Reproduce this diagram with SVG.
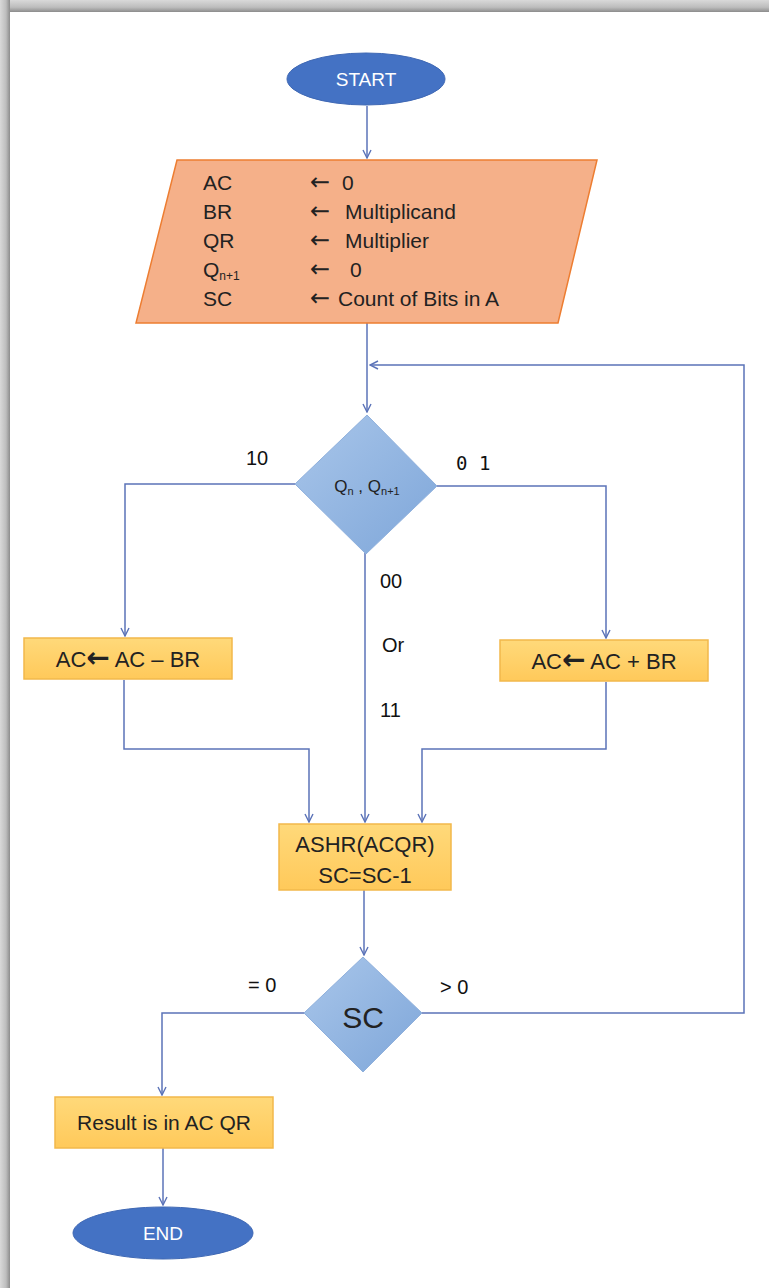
<svg xmlns="http://www.w3.org/2000/svg" width="769" height="1288" viewBox="0 0 769 1288">
<defs>
<linearGradient id="shTop" x1="0" y1="0" x2="0" y2="1">
<stop offset="0" stop-color="#d9d9d9"/><stop offset="0.6" stop-color="#bdbdbd"/><stop offset="1" stop-color="#8c8c8c"/>
</linearGradient>
<linearGradient id="shLeft" x1="0" y1="0" x2="1" y2="0">
<stop offset="0" stop-color="#d9d9d9"/><stop offset="0.6" stop-color="#bdbdbd"/><stop offset="1" stop-color="#8c8c8c"/>
</linearGradient>
<linearGradient id="diaG" x1="0" y1="0" x2="1" y2="1">
<stop offset="0" stop-color="#a9c6ea"/><stop offset="1" stop-color="#7ea6d9"/>
</linearGradient>
<linearGradient id="boxG" x1="0" y1="0" x2="0" y2="1">
<stop offset="0" stop-color="#ffd97a"/><stop offset="1" stop-color="#ffc95a"/>
</linearGradient>
<marker id="arr" viewBox="0 0 10 10" refX="9" refY="5" markerWidth="10" markerHeight="10" markerUnits="userSpaceOnUse" orient="auto">
<path d="M1,1 L9,5 L1,9" fill="none" stroke="#5b73b8" stroke-width="1.4"/>
</marker>
<style>
.c{fill:none;stroke:#5b73b8;stroke-width:1.5}
.t{font-family:"Liberation Sans",Arial,sans-serif;fill:#222}
.ar{font-family:"DejaVu Sans",sans-serif}
.term{fill:#4472c4;stroke:#3f68b4;stroke-width:1}
.termt{font-family:"Liberation Sans",Arial,sans-serif;fill:#ffffff;font-size:19px;text-anchor:middle}
.box{fill:url(#boxG);stroke:#f2b84b;stroke-width:1.5}
.dia{fill:url(#diaG);stroke:#8fb0dc;stroke-width:1}
.lbl{font-family:"Liberation Sans",Arial,sans-serif;fill:#111;font-size:20px}
</style>
</defs>
<rect x="0" y="0" width="769" height="1288" fill="#ffffff"/>
<rect x="0" y="0" width="769" height="12" fill="url(#shTop)"/>
<rect x="0" y="0" width="10" height="1288" fill="url(#shLeft)"/>

<g id="connectors">
<path class="c" d="M367,106 V158" marker-end="url(#arr)"/>
<path class="c" d="M367,323 V412" marker-end="url(#arr)"/>
<path class="c" d="M422,1013 H744 V365 H370" marker-end="url(#arr)"/>
<path class="c" d="M296,484 H125 V636" marker-end="url(#arr)"/>
<path class="c" d="M437,486 H606 V638" marker-end="url(#arr)"/>
<path class="c" d="M365,553 V822" marker-end="url(#arr)"/>
<path class="c" d="M124,680 V749 H309 V822" marker-end="url(#arr)"/>
<path class="c" d="M606,682 V749 H422 V822" marker-end="url(#arr)"/>
<path class="c" d="M364,890 V955" marker-end="url(#arr)"/>
<path class="c" d="M304,1013 H162 V1095" marker-end="url(#arr)"/>
<path class="c" d="M163,1148 V1205" marker-end="url(#arr)"/>
</g>

<g id="start">
<ellipse class="term" cx="366" cy="79" rx="79" ry="26"/>
<text class="termt" x="366" y="86">START</text>
</g>

<g id="init">
<polygon points="177,160 597,160 558,323 136,323" fill="#f5b089" stroke="#ed7d31" stroke-width="1.5"/>
<g class="t" font-size="21">
<text x="203" y="190">AC</text>
<text x="203" y="219">BR</text>
<text x="203" y="248">QR</text>
<text x="203" y="277">Q<tspan font-size="12" dy="3">n+1</tspan></text>
<text x="203" y="306">SC</text>
<text x="310" y="190"><tspan class="ar" font-size="24">←</tspan><tspan x="342">0</tspan></text>
<text x="310" y="219"><tspan class="ar" font-size="24">←</tspan><tspan x="345">Multiplicand</tspan></text>
<text x="310" y="248"><tspan class="ar" font-size="24">←</tspan><tspan x="345">Multiplier</tspan></text>
<text x="310" y="277"><tspan class="ar" font-size="24">←</tspan><tspan x="350">0</tspan></text>
<text x="310" y="306"><tspan class="ar" font-size="24">←</tspan><tspan x="338">Count of Bits in A</tspan></text>
</g>
</g>

<g id="decision1">
<polygon class="dia" points="367,415 437,486 366,554 295,484"/>
<text class="t" x="367" y="492" font-size="17" text-anchor="middle">Q<tspan font-size="11" dy="3">n</tspan><tspan dy="-3"> , Q</tspan><tspan font-size="11" dy="3">n+1</tspan></text>
</g>

<g id="labels">
<text class="lbl" x="246" y="465">10</text>
<text x="456" y="470" font-family="'DejaVu Sans Mono','Liberation Mono',monospace" font-size="19" fill="#111">0 1</text>
<text class="lbl" x="380" y="588">00</text>
<text class="lbl" x="382" y="652">Or</text>
<text class="lbl" x="380" y="717">11</text>
<text class="lbl" x="248" y="992">= 0</text>
<text class="lbl" x="440" y="994">&gt; 0</text>
</g>

<g id="sub">
<rect class="box" x="24" y="638" width="208" height="41"/>
<text class="t" x="128" y="667" font-size="22" text-anchor="middle">AC<tspan class="ar" font-weight="bold" font-size="28">←</tspan> AC – BR</text>
</g>

<g id="add">
<rect class="box" x="500" y="640" width="208" height="41"/>
<text class="t" x="604" y="669" font-size="22" text-anchor="middle">AC<tspan class="ar" font-weight="bold" font-size="28">←</tspan> AC + BR</text>
</g>

<g id="shift">
<rect class="box" x="279" y="824" width="172" height="66"/>
<text class="t" x="365" y="852" font-size="22" text-anchor="middle">ASHR(ACQR)</text>
<text class="t" x="365" y="883" font-size="22" text-anchor="middle">SC=SC-1</text>
</g>

<g id="decision2">
<polygon class="dia" points="363,957 422,1013 363,1072 304,1013"/>
<text class="t" x="363" y="1028" font-size="30" text-anchor="middle" fill="#1f2d4a">SC</text>
</g>

<g id="result">
<rect class="box" x="55" y="1097" width="218" height="51"/>
<text class="t" x="164" y="1130" font-size="21" text-anchor="middle">Result is in AC QR</text>
</g>

<g id="end">
<ellipse class="term" cx="163" cy="1233" rx="90" ry="26"/>
<text class="termt" x="163" y="1240">END</text>
</g>
</svg>
